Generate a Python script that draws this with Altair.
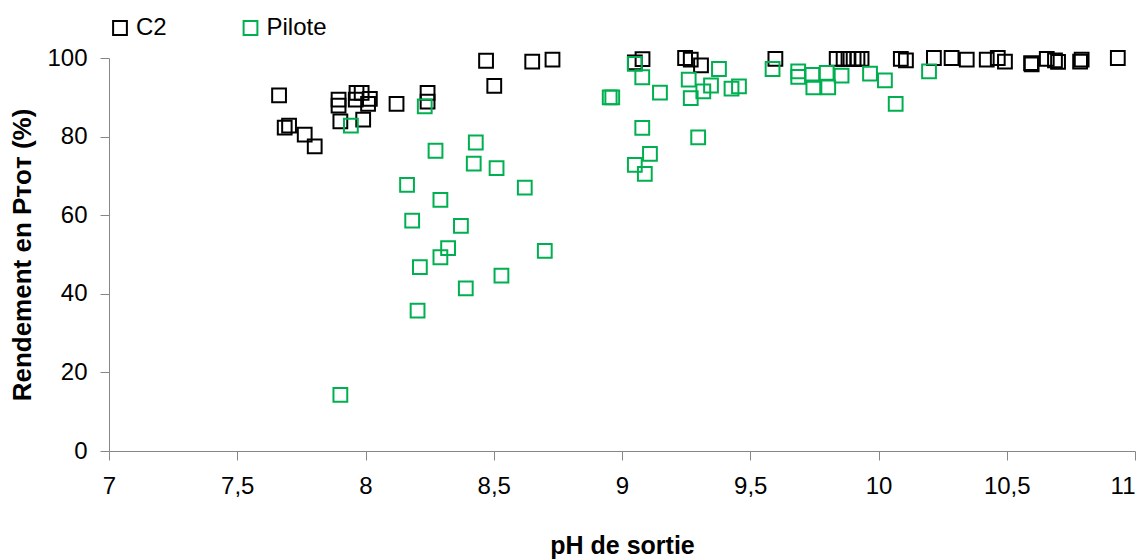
import altair as alt
import pandas as pd

# C2 series
c2_ph = [7.663, 7.685, 7.702, 7.763, 7.802, 7.895, 7.895, 7.902, 7.965, 7.985,
         7.962, 8.017, 8.010, 7.991, 8.121, 8.242, 8.242, 8.470, 8.502, 8.650,
         8.729, 9.050, 9.080, 9.246, 9.268, 9.308, 9.598, 9.837, 9.864, 9.883,
         9.903, 9.918, 9.934, 10.087, 10.107, 10.216, 10.285, 10.344, 10.422, 10.465,
         10.493, 10.595, 10.597, 10.656, 10.688, 10.700, 10.786, 10.792, 10.933]
c2_val = [90.5, 82.3, 82.8, 80.5, 77.5, 89.4, 87.9, 83.9, 91.1, 91.1,
          89.4, 89.6, 88.3, 84.3, 88.3, 91.1, 88.9, 99.3, 92.9, 99.1,
          99.6, 98.9, 99.7, 100.0, 99.6, 98.1, 99.8, 99.8, 99.8, 99.8,
          99.8, 99.8, 99.8, 99.8, 99.4, 100.0, 100.0, 99.6, 99.6, 100.0,
          99.1, 98.7, 98.4, 99.8, 99.4, 99.0, 99.1, 99.6, 100.0]

# Pilote series
pil_ph = [7.943, 8.231, 8.430, 8.273, 8.422, 8.511, 8.621, 8.162, 8.292, 8.182,
          8.372, 8.322, 8.292, 8.699, 8.212, 8.530, 8.391, 8.203, 7.902, 8.952,
          8.962, 9.050, 9.079, 9.148, 9.260, 9.378, 9.347, 9.317, 9.268, 9.427,
          9.456, 9.079, 9.297, 9.109, 9.050, 9.089, 9.587, 9.687, 9.687, 9.742,
          9.798, 9.856, 9.967, 9.746, 9.804, 10.025, 10.067, 10.197]
pil_val = [82.8, 87.7, 78.5, 76.4, 73.1, 72.0, 67.0, 67.7, 63.9, 58.6,
           57.3, 51.6, 49.3, 50.9, 46.8, 44.6, 41.4, 35.7, 14.3, 90.0,
           90.0, 98.5, 95.1, 91.2, 94.5, 97.2, 93.0, 91.5, 89.8, 92.2,
           92.8, 82.2, 79.8, 75.6, 72.8, 70.5, 97.2, 96.6, 95.2, 95.7,
           96.2, 95.5, 96.0, 92.5, 92.5, 94.3, 88.3, 96.6]

series_names = ["C2", "Pilote"]
series_colors = ["#000000", "#00B050"]
x_ticks = [7, 7.5, 8, 8.5, 9, 9.5, 10, 10.5, 11]
y_ticks = [0, 20, 40, 60, 80, 100]

df = pd.concat([
    pd.DataFrame({"ph": c2_ph, "val": c2_val, "serie": "C2", "ord": 0}),
    pd.DataFrame({"ph": pil_ph, "val": pil_val, "serie": "Pilote", "ord": 1}),
], ignore_index=True)

FONT = "Liberation Sans"
AXIS_GRAY = "#868686"

chart = alt.Chart(df).mark_point(
    shape="square", filled=False, size=190, strokeWidth=2, opacity=1
).encode(
    x=alt.X("ph:Q", scale=alt.Scale(domain=[7, 11], nice=False, zero=False),
            axis=alt.Axis(values=x_ticks, title="pH de sortie",
                          labelExpr="replace(toString(datum.value), '.', ',')",
                          labelFlush=False, labelOverlap=False,
                          labelAlign=alt.ExprRef(expr="datum.value >= 11 ? 'right' : 'center'"),
                          grid=False, domainColor=AXIS_GRAY, tickColor=AXIS_GRAY,
                          tickSize=9, labelPadding=14, labelFontSize=24,
                          labelFont=FONT, labelColor="#000000",
                          titleFont=FONT, titleFontSize=25, titleFontWeight="bold",
                          titleColor="#000000", titleY=94, titleBaseline="middle")),
    y=alt.Y("val:Q", scale=alt.Scale(domain=[0, 100], nice=False),
            axis=alt.Axis(values=y_ticks, title="Rendement en Pᴛᴏᴛ (%)",
                          grid=False, domainColor=AXIS_GRAY, tickColor=AXIS_GRAY,
                          tickSize=9, labelPadding=13, labelFontSize=24,
                          labelFont=FONT, labelColor="#000000",
                          titleFont=FONT, titleFontSize=26, titleFontWeight="bold",
                          titleColor="#000000", titleX=-87, titleY=196.5,
                          titleAngle=270, titleBaseline="middle", titleAlign="center")),
    color=alt.Color("serie:N",
                    scale=alt.Scale(domain=series_names, range=series_colors),
                    legend=alt.Legend(title=None, orient="none", direction="horizontal",
                                      legendX=-1, legendY=-42,
                                      symbolType="square", symbolSize=190,
                                      symbolStrokeWidth=2, symbolFillColor="transparent",
                                      labelFont=FONT, labelFontSize=24,
                                      labelColor="#000000", labelOffset=4,
                                      columnPadding=71.5, padding=0)),
    order=alt.Order("ord:Q"),
).properties(
    width=1026,
    height=393,
    autosize=alt.AutoSizeParams(type="none"),
    padding={"left": 101, "top": 50, "right": 4, "bottom": 108},
).configure_view(stroke=None)

chart.save("out.html", embed_options={"renderer": "svg", "actions": False})
